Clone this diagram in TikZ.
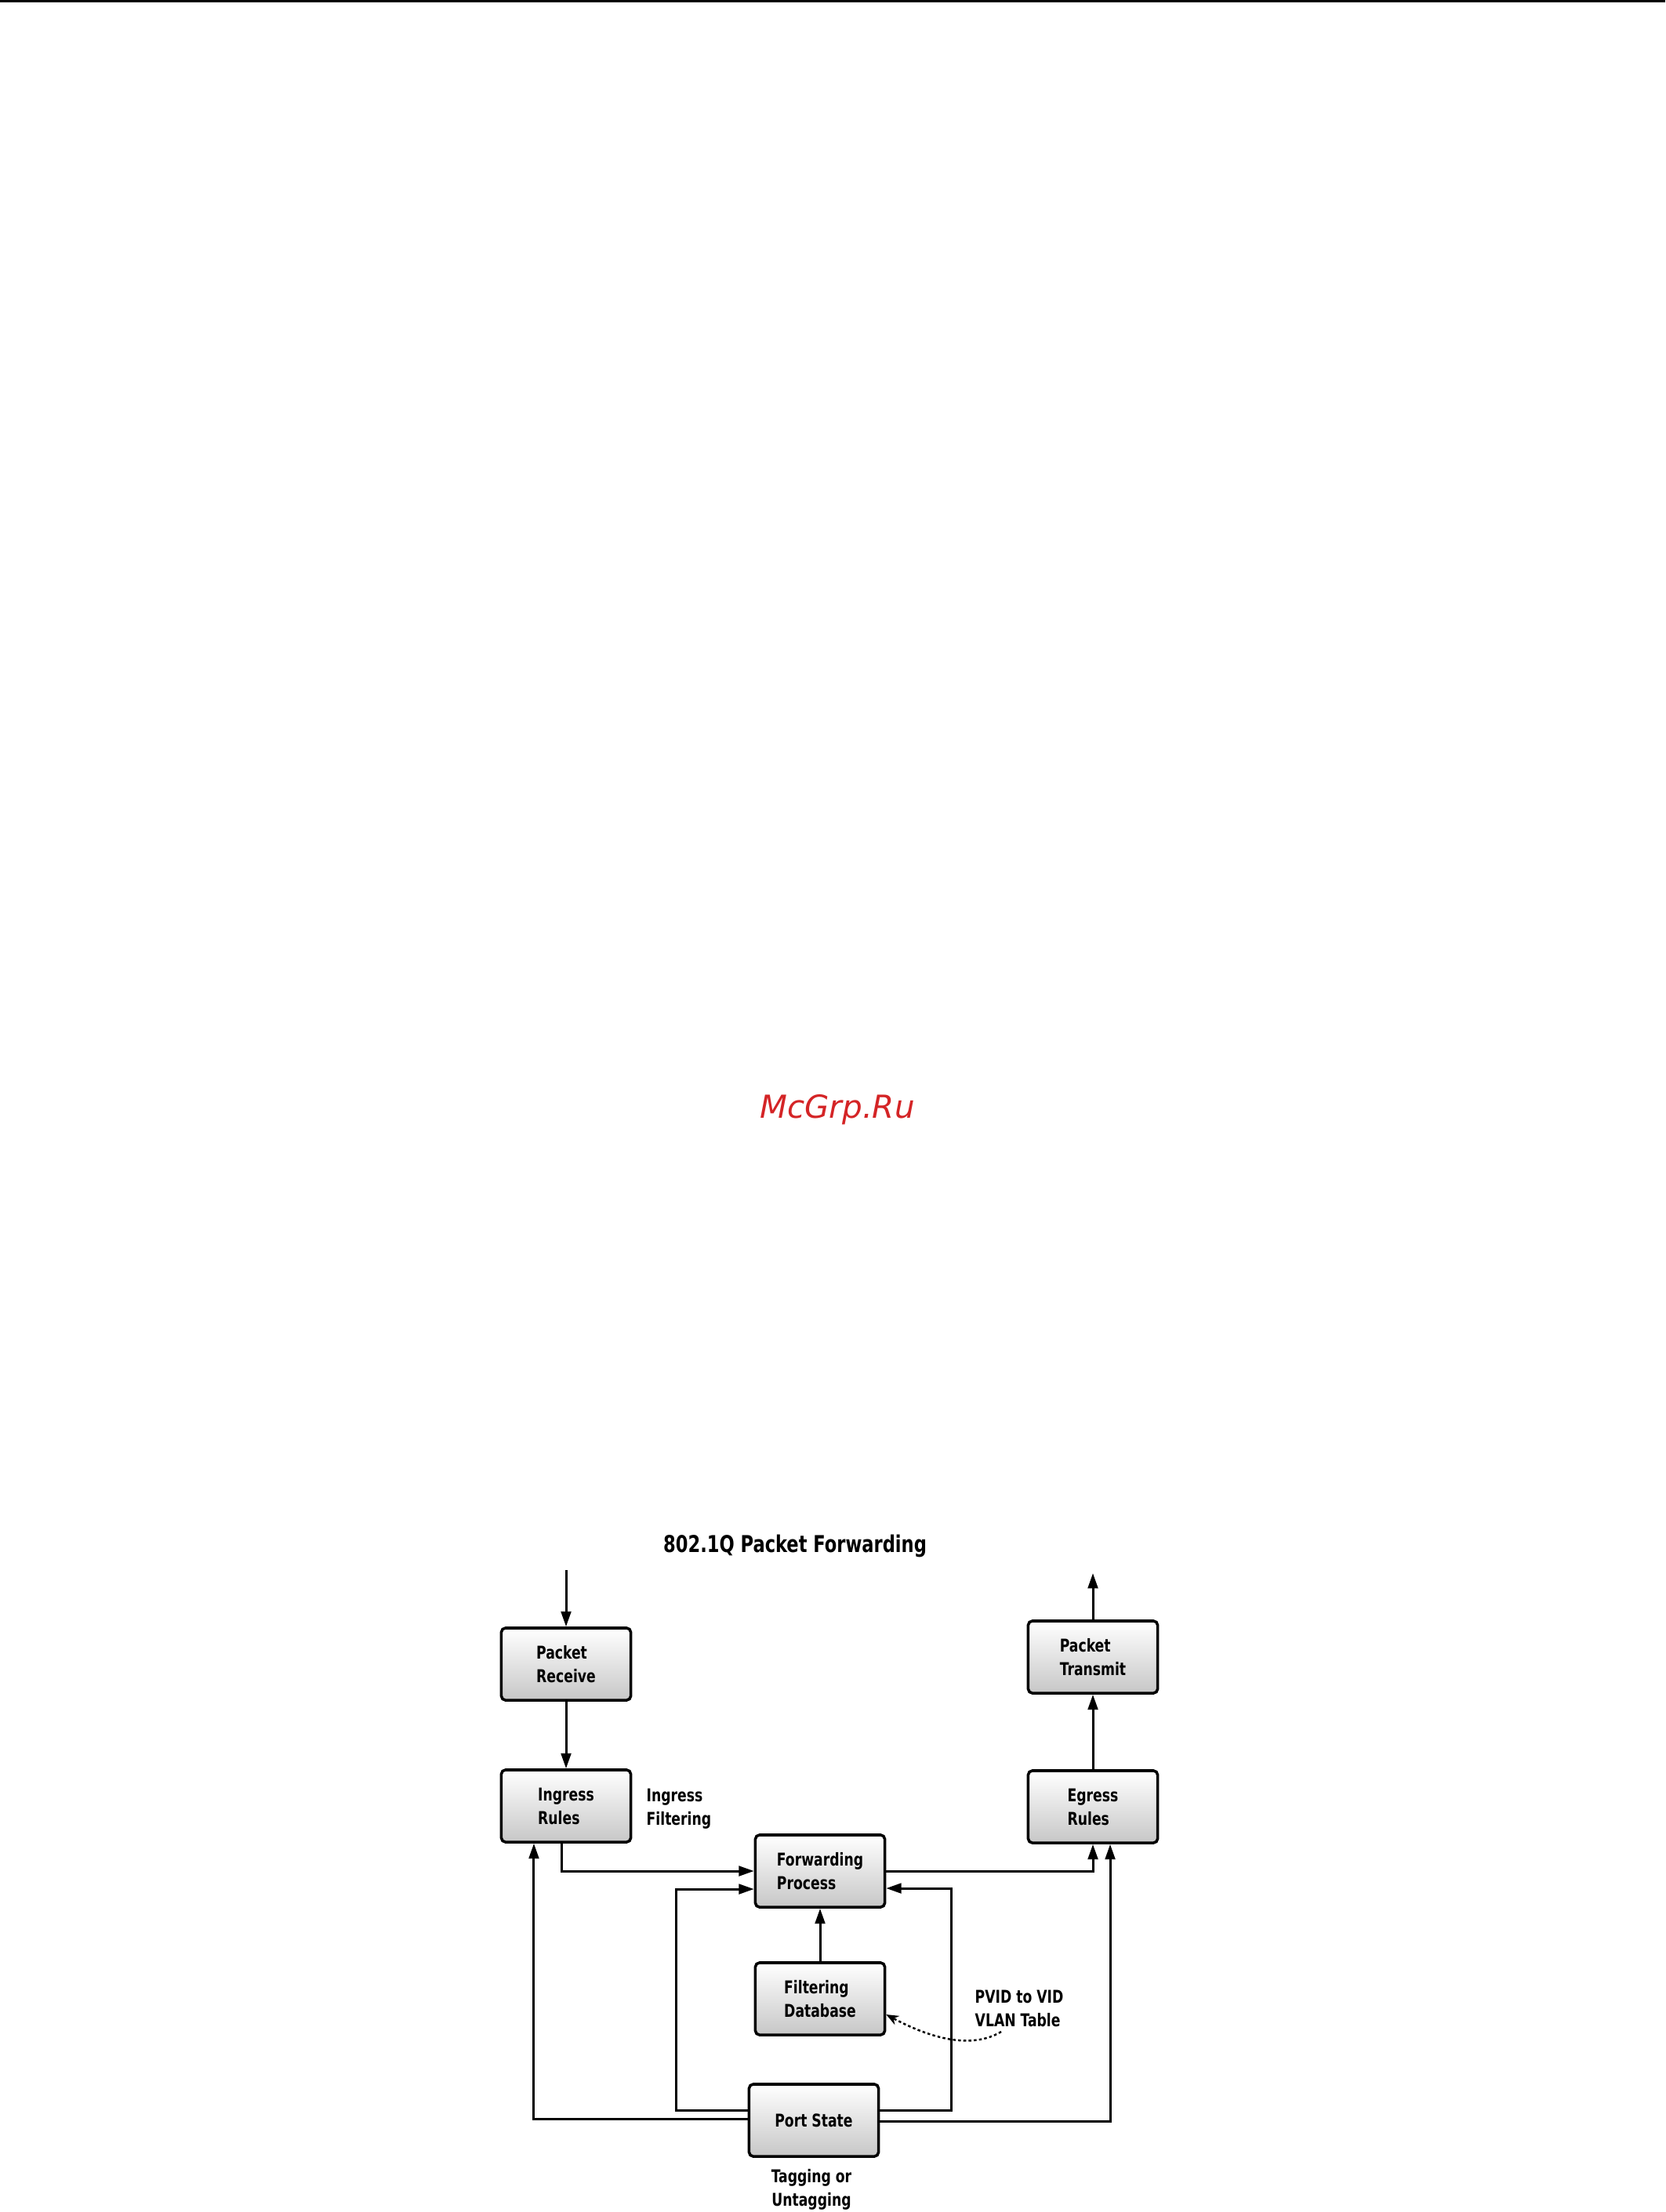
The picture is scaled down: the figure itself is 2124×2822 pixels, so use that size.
\documentclass[tikz,border=0pt]{standalone}
\usepackage{fontspec}
\usetikzlibrary{arrows.meta}
\newfontfamily\diagfont{DejaVu Sans Condensed}[FakeStretch=0.85]
\newfontfamily\marcafont{DejaVu Sans}
\definecolor{marcarojo}{RGB}{212,36,38}

\begin{document}
\begin{tikzpicture}[x=0.01cm, y=-0.01cm,
		caja/.style={draw, line width=1pt, rounded corners=1.5pt, top color=white, bottom color=black!22,
			minimum width=1.65cm, minimum height=0.92cm, inner sep=0pt, align=left,
			font=\diagfont\bfseries\fontsize{6.4}{8.5}\selectfont},
		rotulo/.style={inner sep=0pt, align=left, font=\diagfont\bfseries\fontsize{6.4}{8.5}\selectfont},
		flecha/.style={line width=0.85pt, -{Triangle[length=5.5pt,width=3.6pt]}},
		punteada/.style={line width=0.7pt, dash pattern=on 1pt off 0.9pt, -{Stealth[length=4.5pt,width=3.6pt]}}]
		\useasboundingbox (0,0) rectangle (2124,2822);
		
		% Raya superior de la pagina
		\fill (0,0) rectangle (2124,3);
		
		% Marca de agua
		\node[text=marcarojo, font=\marcafont\itshape\fontsize{11.5}{13}\selectfont] (marca) at (1068,1416) {McGrp.Ru};
		
		% Titulo
		\node[font=\diagfont\bfseries\fontsize{8.4}{10}\selectfont] (titulo) at (1014,1972) {802.1Q Packet Forwarding};
		
		% Cajas
		\node[caja] (recepcion) at (722,2123) {Packet\\Receive};
		\node[caja] (ingreso) at (722,2304) {Ingress\\Rules};
		\node[caja] (reenvio) at (1046,2387) {Forwarding\\Process};
		\node[caja] (basedatos) at (1046,2550) {Filtering\\Database};
		\node[caja] (estado) at (1038,2705) {Port State};
		\node[caja] (egreso) at (1394,2305) {Egress\\Rules};
		\node[caja] (transmision) at (1394,2114) {Packet\\Transmit};
		
		% Rotulos sueltos
		\node[rotulo, anchor=west] (filtrado) at (824,2308) {Ingress\\Filtering};
		\node[rotulo, anchor=west] (tabla) at (1243,2562) {PVID to VID\\VLAN Table};
		\node[rotulo, align=center] (etiquetado) at (1035,2793) {Tagging or\\Untagging};
		
		% Extremos libres
		\coordinate (entrada) at (722,2003);
		\coordinate (salida) at (1394,2007);
		\coordinate (cola) at (1277,2592);
		
		% Conexiones
		\draw[flecha] (entrada) -- (recepcion.north);
		\draw[flecha] (recepcion) -- (ingreso);
		\draw[flecha] ([xshift=-0.06cm]ingreso.south) |- (reenvio.west);
		\draw[flecha] (basedatos) -- (reenvio);
		\draw[flecha] (reenvio.east) -| (egreso.south);
		\draw[flecha] (egreso) -- (transmision);
		\draw[flecha] (transmision.north) -- (salida);
		
		% Salidas de Port State
		\draw[flecha] ([yshift=0.02cm]estado.west) -| ([xshift=-0.41cm]ingreso.south);
		\draw[flecha] ([yshift=0.13cm]estado.west) -| ([xshift=-0.995cm,yshift=-0.23cm]reenvio.west) -- ([yshift=-0.23cm]reenvio.west);
		\draw[flecha] ([yshift=0.13cm]estado.east) -| ([xshift=0.835cm,yshift=-0.22cm]reenvio.east) -- ([yshift=-0.22cm]reenvio.east);
		\draw[flecha] ([yshift=-0.01cm]estado.east) -| ([xshift=0.22cm]egreso.south);
		
		% Tabla PVID
		\draw[punteada] (cola) .. controls (1240,2614) and (1190,2602) .. ([yshift=-0.2cm]basedatos.east);
	\end{tikzpicture}
\end{document}
